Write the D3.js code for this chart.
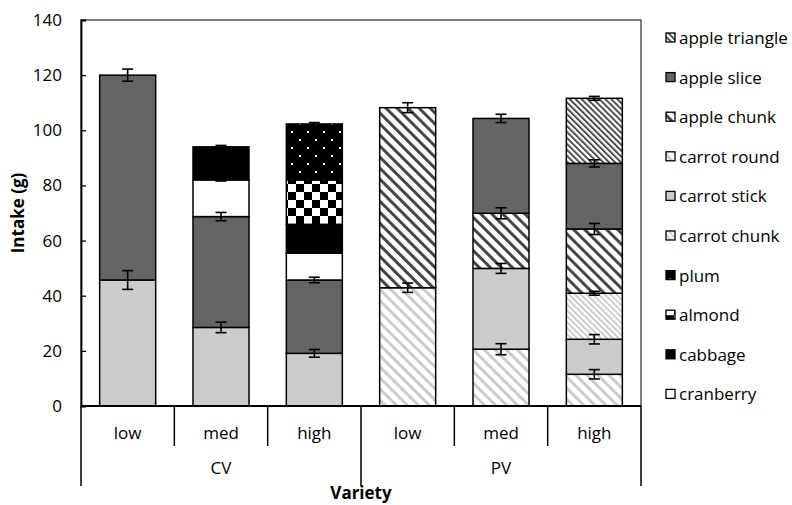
<!DOCTYPE html>
<html>
<head>
<meta charset="utf-8">
<script src="https://cdn.jsdelivr.net/npm/d3@7"></script>
<style>
  body { margin: 0; background: #fff; }
  svg text { font-family: "Open Sans", sans-serif; fill: #000; }
</style>
</head>
<body>
<div class="chart"></div>
<script>
// legend order (top to bottom)
const foods = ["apple triangle", "apple slice", "apple chunk", "carrot round", "carrot stick",
  "carrot chunk", "plum", "almond", "cabbage", "cranberry"]
const groups = ["CV", "PV"]
const levels = ["low", "med", "high"]
const yTicks = [0, 20, 40, 60, 80, 100, 120, 140]

// each bar: segments bottom-up, [food, amount (g), se]
const cvLow = [["carrot stick", 45.7, 3.4], ["apple slice", 74.3, 2.2]]
const cvMed = [["carrot stick", 28.5, 1.9], ["apple slice", 40.2, 1.5], ["cranberry", 13.3, 0.4], ["cabbage", 12.0, 0.5]]
const cvHigh = [["carrot stick", 19.1, 1.4], ["apple slice", 26.6, 1.0], ["cranberry", 9.7, 0], ["cabbage", 10.5, 0],
  ["almond", 16.1, 0], ["plum", 20.3, 0.5]]
const pvLow = [["carrot round", 42.9, 1.7], ["apple chunk", 65.3, 1.8]]
const pvMed = [["carrot round", 20.6, 2.0], ["carrot stick", 29.3, 1.8], ["apple chunk", 20.0, 2.0], ["apple slice", 34.4, 1.5]]
const pvHigh = [["carrot round", 11.5, 1.7], ["carrot stick", 12.7, 1.7], ["carrot chunk", 16.7, 0.7],
  ["apple chunk", 23.3, 2.0], ["apple slice", 23.8, 1.3], ["apple triangle", 23.6, 0.7]]

const bars = [
  {group: "CV", level: "low", segs: cvLow},
  {group: "CV", level: "med", segs: cvMed},
  {group: "CV", level: "high", segs: cvHigh},
  {group: "PV", level: "low", segs: pvLow},
  {group: "PV", level: "med", segs: pvMed},
  {group: "PV", level: "high", segs: pvHigh}
]
bars.forEach(b => {
  b.key = b.group + "-" + b.level
  let acc = 0
  b.rows = b.segs.map(([food, v, se]) => {
    const r = {food, y0: acc, y1: acc + v, se}
    acc += v
    return r
  })
})

const W = 792, H = 505
const margin = {top: 20, left: 81, right: 151, bottom: 99}
const x0 = margin.left, x1 = W - margin.right
const y0 = H - margin.bottom, y1 = margin.top
const fs = "17px"

const svg = d3.select(".chart").append("svg")
  .attr("width", W).attr("height", H)

// patterns
const defs = svg.append("defs")
function stripes (id, color, period, thick) {
  const p = defs.append("pattern").attr("id", id)
    .attr("patternUnits", "userSpaceOnUse")
    .attr("width", period).attr("height", period)
    .attr("patternTransform", "rotate(-45)")
  p.append("rect").attr("width", period).attr("height", period).attr("fill", "#fff")
  p.append("rect").attr("width", thick).attr("height", period).attr("fill", color)
}
stripes("p-atri", "#4a4a4a", 4.2, 1.9)
stripes("p-achunk", "#454545", 7.8, 3.0)
stripes("p-cround", "#cccccc", 7.8, 3.0)
stripes("p-cchunk", "#cccccc", 4.2, 1.9)

const checker = defs.append("pattern").attr("id", "p-almond")
  .attr("patternUnits", "userSpaceOnUse").attr("width", 16).attr("height", 16)
checker.append("rect").attr("width", 16).attr("height", 16).attr("fill", "#fff")
checker.append("rect").attr("width", 8).attr("height", 8).attr("fill", "#000")
checker.append("rect").attr("x", 8).attr("y", 8).attr("width", 8).attr("height", 8).attr("fill", "#000")

const dots = defs.append("pattern").attr("id", "p-plum")
  .attr("patternUnits", "userSpaceOnUse").attr("width", 16).attr("height", 16)
dots.append("rect").attr("width", 16).attr("height", 16).attr("fill", "#000")
dots.append("rect").attr("x", 3).attr("y", 3).attr("width", 2).attr("height", 2).attr("fill", "#fff")
dots.append("rect").attr("x", 11).attr("y", 11).attr("width", 2).attr("height", 2).attr("fill", "#fff")

const fills = {
  "apple triangle": "url(#p-atri)",
  "apple slice": "#646464",
  "apple chunk": "url(#p-achunk)",
  "carrot round": "url(#p-cround)",
  "carrot stick": "#cccccc",
  "carrot chunk": "url(#p-cchunk)",
  "plum": "url(#p-plum)",
  "almond": "url(#p-almond)",
  "cabbage": "#000",
  "cranberry": "#fff"
}

const x = d3.scaleBand(bars.map(b => b.key), [x0, x1]).paddingInner(0.4).paddingOuter(0.2)
const xg = d3.scaleBand(groups, [x0, x1])
const y = d3.scaleLinear([0, 140], [y0, y1])

// plot frame
svg.append("rect")
  .attr("x", x0).attr("y", y1).attr("width", x1 - x0).attr("height", y0 - y1)
  .attr("fill", "none").attr("stroke", "#000").attr("stroke-width", 1)

// bars
const bar = svg.selectAll("g.bar").data(bars).enter().append("g").attr("class", "bar")
bar.selectAll("rect").data(b => b.rows.map(r => Object.assign({key: b.key}, r)))
  .enter().append("rect")
    .attr("x", d => x(d.key))
    .attr("width", x.bandwidth())
    .attr("y", d => y(d.y1))
    .attr("height", d => y(d.y0) - y(d.y1))
    .attr("fill", d => fills[d.food])
    .attr("stroke", "#000").attr("stroke-width", 1.5)

// error bars
const err = svg.append("g").attr("stroke", "#000").attr("stroke-width", 1.6)
bars.forEach(b => {
  const cx = x(b.key) + x.bandwidth() / 2
  b.rows.filter(r => r.se > 0).forEach(r => {
    const top = y(r.y1 + r.se), bot = y(r.y1 - r.se)
    err.append("line").attr("x1", cx).attr("x2", cx).attr("y1", top).attr("y2", bot)
    err.append("line").attr("x1", cx - 5.5).attr("x2", cx + 5.5).attr("y1", top).attr("y2", top)
    err.append("line").attr("x1", cx - 5.5).attr("x2", cx + 5.5).attr("y1", bot).attr("y2", bot)
  })
})

// y axis, ticks point inward
const yAxis = svg.append("g").attr("transform", `translate(${x0},0)`)
  .call(d3.axisLeft(y).tickValues(yTicks).tickSize(-5).tickPadding(19))
yAxis.select(".domain").attr("stroke-width", 1.8)
yAxis.selectAll(".tick line").attr("stroke-width", 1.3)
yAxis.selectAll("text").style("font-size", fs)

svg.append("text")
  .attr("transform", `translate(24,${(y0 + y1) / 2}) rotate(-90)`)
  .attr("text-anchor", "middle")
  .style("font-size", fs).style("font-weight", "bold")
  .text("Intake (g)")

// x axis, two levels
const xa = svg.append("g")
xa.append("line").attr("x1", x0).attr("x2", x1).attr("y1", y0).attr("y2", y0)
  .attr("stroke", "#000").attr("stroke-width", 1.8)
const step = x.step()
bars.forEach((b, i) => {
  const left = x(b.key) - step * x.paddingInner() / 2
  if (i % 3 !== 0) {
    xa.append("line").attr("x1", left).attr("x2", left).attr("y1", y0).attr("y2", y0 + 40)
      .attr("stroke", "#000").attr("stroke-width", 1.5)
  }
  xa.append("text").attr("x", x(b.key) + x.bandwidth() / 2).attr("y", y0 + 33)
    .attr("text-anchor", "middle").style("font-size", fs).text(b.level)
})
groups.concat([null]).forEach(g => {
  const gx = g ? xg(g) : x1
  xa.append("line").attr("x1", gx).attr("x2", gx).attr("y1", y0).attr("y2", y0 + 80)
    .attr("stroke", "#000").attr("stroke-width", 1.5)
})
groups.forEach(g => {
  xa.append("text").attr("x", xg(g) + xg.bandwidth() / 2).attr("y", y0 + 68)
    .attr("text-anchor", "middle").style("font-size", fs).text(g)
})
svg.append("text").attr("x", (x0 + x1) / 2).attr("y", y0 + 93)
  .attr("text-anchor", "middle").style("font-size", fs).style("font-weight", "bold")
  .text("Variety")

// legend
const leg = svg.selectAll("g.leg").data(foods).enter().append("g").attr("class", "leg")
  .attr("transform", (d, i) => `translate(666,${38 + i * 39.6})`)
leg.append("rect").attr("x", 0).attr("y", -5).attr("width", 9).attr("height", 9)
  .attr("fill", d => fills[d]).attr("stroke", "#000").attr("stroke-width", 1.3)
leg.append("text").attr("x", 13).attr("y", 6).style("font-size", fs).text(d => d)
</script>
</body>
</html>
